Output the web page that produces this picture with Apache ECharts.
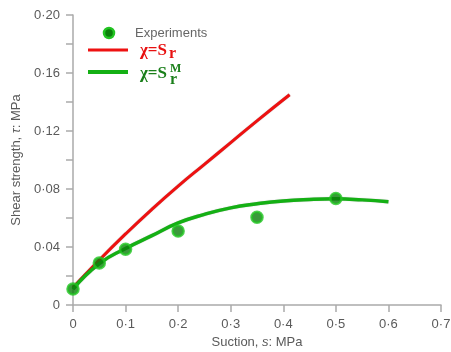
<!DOCTYPE html>
<html><head><meta charset="utf-8">
<script src="https://cdn.jsdelivr.net/npm/echarts@6/dist/echarts.min.js"></script>
<style>html,body{margin:0;padding:0;background:#fff}#c{width:451px;height:352px}</style>
</head><body><div id="c"></div>
<script>
// Data
const experimentsX = [0, 0.05, 0.1, 0.2, 0.35, 0.5];
const experimentsY = [0.011, 0.029, 0.0385, 0.051, 0.0605, 0.0735];
const chiSrX = [0, 0.05, 0.1, 0.15, 0.2, 0.25, 0.3, 0.35, 0.412];
const chiSrY = [0.012, 0.031, 0.049, 0.066, 0.082, 0.097, 0.112, 0.127, 0.145];
const chiSrMX = [0, 0.05, 0.1, 0.15, 0.2, 0.25, 0.3, 0.35, 0.4, 0.45, 0.5, 0.55, 0.6];
const chiSrMY = [0.011, 0.0285, 0.039, 0.0478, 0.0566, 0.0625, 0.067, 0.0698, 0.0718, 0.0728, 0.0732, 0.0725, 0.0712];
const xTickLabels = ['0', '0·1', '0·2', '0·3', '0·4', '0·5', '0·6', '0·7'];
const yTickLabels = {0: '0', 2: '0·04', 4: '0·08', 6: '0·12', 8: '0·16', 10: '0·20'};

const zip = (xs, ys) => xs.map((x, i) => [x, ys[i]]);
const axisColor = '#aaaaaa';
const labelColor = '#5a5a5a';
const font = 'Liberation Sans';

const chart = echarts.init(document.getElementById('c'));
chart.setOption({
  animation: false,
  backgroundColor: '#fff',
  grid: {left: 73, right: 10, top: 15, bottom: 47, outerBoundsMode: 'none', containLabel: false},
  xAxis: {
    type: 'value', min: 0, max: 0.7, interval: 0.1,
    splitLine: {show: false},
    axisLine: {show: true, onZero: false, lineStyle: {color: axisColor, width: 1.5}},
    axisTick: {show: true, length: 7, lineStyle: {color: axisColor, width: 1.5}},
    axisLabel: {color: labelColor, fontSize: 13, fontFamily: font, margin: 13,
      formatter: (v) => xTickLabels[Math.round(v * 10)]},
    name: '{a|Suction, }{i|s}{a|: MPa}',
    nameLocation: 'middle', nameGap: 30,
    nameTextStyle: {rich: {
      a: {color: labelColor, fontSize: 13, fontFamily: font},
      i: {color: labelColor, fontSize: 13, fontFamily: font, fontStyle: 'italic'}
    }}
  },
  yAxis: {
    type: 'value', min: 0, max: 0.2, interval: 0.02,
    splitLine: {show: false},
    axisLine: {show: true, lineStyle: {color: axisColor, width: 1.5}},
    axisTick: {show: true, length: 7, lineStyle: {color: axisColor, width: 1.5}},
    axisLabel: {color: labelColor, fontSize: 13, fontFamily: font, margin: 13,
      formatter: (v) => { const k = Math.round(v * 50); return yTickLabels[k] !== undefined ? yTickLabels[k] : ''; }},
    name: '{a|Shear strength, }{i|τ}{a|: MPa}',
    nameLocation: 'middle', nameGap: 49, nameRotate: 90,
    nameTextStyle: {rich: {
      a: {color: labelColor, fontSize: 13, fontFamily: font},
      i: {color: labelColor, fontSize: 13, fontFamily: font, fontStyle: 'italic'}
    }}
  },
  series: [
    {
      name: 'χ=Sr', type: 'line', smooth: 0.5, showSymbol: false,
      data: zip(chiSrX, chiSrY),
      lineStyle: {color: '#ee1111', width: 3, shadowColor: 'rgba(0,0,0,0.35)', shadowBlur: 1},
      z: 2
    },
    {
      name: 'χ=SrM', type: 'line', smooth: 0.5, showSymbol: false,
      data: zip(chiSrMX, chiSrMY),
      lineStyle: {color: '#14b014', width: 3.5, shadowColor: 'rgba(0,0,0,0.3)', shadowBlur: 1},
      z: 3
    },
    {
      name: 'Experiments', type: 'scatter', symbol: 'circle', symbolSize: 11,
      data: zip(experimentsX, experimentsY),
      itemStyle: {color: '#0a800a', borderColor: '#22c422', borderWidth: 2.5},
      z: 4
    }
  ],
  graphic: [
    {type: 'circle', shape: {cx: 109, cy: 33, r: 5}, style: {fill: '#0a800a', stroke: '#22c422', lineWidth: 2.5}},
    {type: 'text', x: 135, y: 33, style: {text: 'Experiments', fill: '#666', fontSize: 13, fontFamily: font, verticalAlign: 'middle'}},
    {type: 'line', shape: {x1: 88, y1: 50, x2: 128, y2: 50}, style: {stroke: '#ee1111', lineWidth: 3}},
    {type: 'text', x: 140, y: 51, style: {text: 'χ=S', fill: '#e81010', fontSize: 17, fontWeight: 'bold', fontFamily: 'Liberation Serif', verticalAlign: 'middle'}},
    {type: 'text', x: 169, y: 54, style: {text: 'r', fill: '#e81010', fontSize: 16, fontWeight: 'bold', fontFamily: 'Liberation Serif', verticalAlign: 'middle'}},
    {type: 'line', shape: {x1: 88, y1: 72, x2: 128, y2: 72}, style: {stroke: '#14b014', lineWidth: 4}},
    {type: 'text', x: 140, y: 74, style: {text: 'χ=S', fill: '#1a7f1a', fontSize: 17, fontWeight: 'bold', fontFamily: 'Liberation Serif', verticalAlign: 'middle'}},
    {type: 'text', x: 170, y: 69, style: {text: 'M', fill: '#1a7f1a', fontSize: 12, fontWeight: 'bold', fontFamily: 'Liberation Serif', verticalAlign: 'middle'}},
    {type: 'text', x: 170, y: 80, style: {text: 'r', fill: '#1a7f1a', fontSize: 16, fontWeight: 'bold', fontFamily: 'Liberation Serif', verticalAlign: 'middle'}}
  ]
});
</script></body></html>
